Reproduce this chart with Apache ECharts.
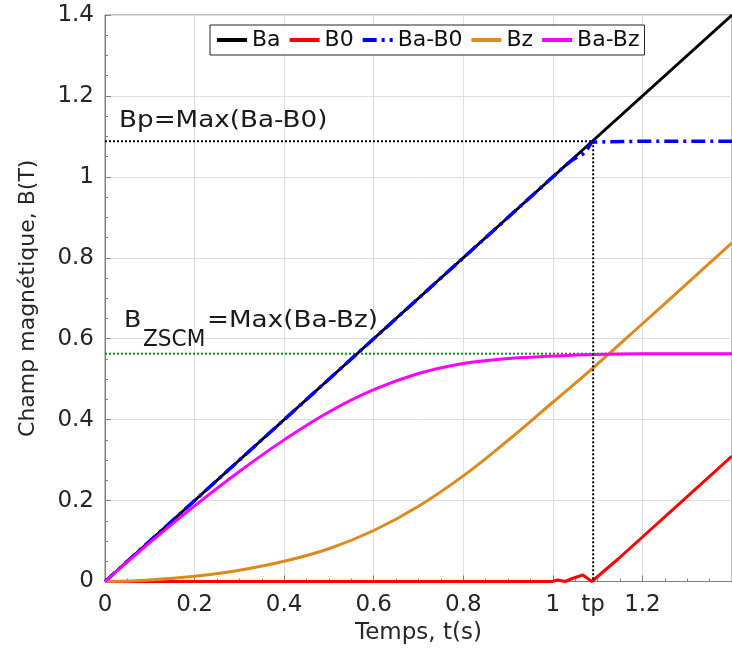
<!DOCTYPE html>
<html>
<head>
<meta charset="utf-8">
<script src="https://cdn.jsdelivr.net/npm/echarts@6/dist/echarts.min.js"></script>
<style>
html,body{margin:0;padding:0;background:#fff;}
#c{width:732px;height:660px;}
</style>
</head>
<body>
<div id="c"></div>
<script>
// ---- data ----
const xTickLabels = [0, 0.2, 0.4, 0.6, 0.8, 1, 1.09, 1.2];
const tp = 1.09;
const Bp = 1.088;
const Bzscm = 0.563;

const tBa = [0, 0.7, 1.4];
const Ba  = [0, 0.7, 1.4];

const tB0 = [0, 0.5, 1.0, 1.01, 1.027, 1.045, 1.067, 1.087, 1.145, 1.2, 1.3, 1.4];
const B0  = [0, 0,   0,   0.004, 0,    0.008, 0.016, 0,     0.055, 0.11, 0.21, 0.31];

const tBaB0 = [0, 0.5, 1.0, 1.027, 1.045, 1.067, 1.078, 1.087, 1.09, 1.2, 1.4];
const BaB0  = [0, 0.5, 1.0, 1.027, 1.043, 1.056, 1.07, 1.086, 1.088, 1.088, 1.088];

const tBz = [0, 0.1, 0.2, 0.3, 0.4, 0.5, 0.6, 0.7, 0.8, 0.9, 1.0, 1.09, 1.2, 1.3, 1.4];
const Bz  = [0, 0.004, 0.013, 0.028, 0.05, 0.081, 0.126, 0.186, 0.261, 0.349, 0.443, 0.528, 0.637, 0.737, 0.837];

const tBaBz = [0, 0.1, 0.2, 0.3, 0.4, 0.5, 0.6, 0.7, 0.8, 0.9, 1.0, 1.09, 1.2, 1.3, 1.4];
const BaBz  = [0, 0.096, 0.187, 0.272, 0.35, 0.419, 0.474, 0.514, 0.539, 0.551, 0.557, 0.561, 0.563, 0.563, 0.563];

const legendNames = ['Ba', 'B0', 'Ba-B0', 'Bz', 'Ba-Bz'];

// ---- build ----
const zip = (a, b) => a.map((v, i) => [v, b[i]]);
const FONT = 'DejaVu Sans';
const TXT = '#262626';

const chart = echarts.init(document.getElementById('c'), null, {renderer: 'canvas'});

function lineSeries(name, data, color, extra) {
  return Object.assign({
    name, type: 'line', data, symbol: 'none', showSymbol: false,
    lineStyle: {color, width: 3}, itemStyle: {color},
    emphasis: {disabled: true}, silent: true, clip: true
  }, extra || {});
}

const option = {
  animation: false,
  backgroundColor: '#fff',
  grid: {left: 105, top: 15, width: 634, height: 566.5, show: true,
         borderColor: '#808080', borderWidth: 1, containLabel: false},
  legend: {
    data: legendNames, left: 210, top: 25, orient: 'horizontal',
    itemWidth: 30, itemHeight: 14, itemGap: 7,
    padding: [4, 5, 4, 5],
    borderColor: '#262626', borderWidth: 1, backgroundColor: '#fff',
    itemStyle: {opacity: 0, borderWidth: 0},
    lineStyle: {width: 4},
    textStyle: {fontFamily: FONT, fontSize: 22, color: '#111'}
  },
  xAxis: {
    type: 'value', min: 0, max: 1.4, interval: 0.2,
    name: 'Temps, t(s)', nameLocation: 'middle', nameGap: 37,
    nameTextStyle: {fontFamily: FONT, fontSize: 23, color: TXT},
    axisLine: {show: true, onZero: false, lineStyle: {color: '#808080', width: 1}},
    axisTick: {show: true, inside: true, length: 6, lineStyle: {color: '#808080'}},
    minorTick: {show: true, splitNumber: 4, length: 3, lineStyle: {color: '#808080'}},
    axisLabel: {
      customValues: xTickLabels, margin: 12,
      fontFamily: FONT, fontSize: 23, color: TXT,
      formatter: v => Math.abs(v - tp) < 1e-6 ? 'tp' : String(+v.toFixed(2))
    },
    splitLine: {show: true, lineStyle: {color: '#dedede', width: 1}}
  },
  yAxis: {
    type: 'value', min: 0, max: 1.4, interval: 0.2,
    name: 'Champ magnétique, B(T)', nameLocation: 'middle', nameGap: 66,
    nameTextStyle: {fontFamily: FONT, fontSize: 22, color: TXT},
    axisLine: {show: true, lineStyle: {color: '#808080', width: 1}},
    axisTick: {show: true, inside: true, length: 6, lineStyle: {color: '#808080'}},
    minorTick: {show: true, splitNumber: 4, length: 3, lineStyle: {color: '#808080'}},
    axisLabel: {margin: 11, fontFamily: FONT, fontSize: 23, color: TXT,
      formatter: v => String(+v.toFixed(2)), showMinLabel: true, showMaxLabel: true},
    splitLine: {show: true, lineStyle: {color: '#dedede', width: 1}}
  },
  series: [
    lineSeries('zscm', [[0, Bzscm], [1.4, Bzscm]], '#148a14', {lineStyle: {color: '#148a14', width: 2, type: [2, 2]}, z: 1}),
    lineSeries('Ba', zip(tBa, Ba), '#000000', {z: 2}),
    lineSeries('B0', zip(tB0, B0), '#ff0000', {z: 3}),
    lineSeries('Ba-B0', zip(tBaB0, BaB0), '#0000ff', {lineStyle: {color: '#0000ff', width: 3.5, type: [14, 5, 3, 5]}, z: 4}),
    lineSeries('Bz', zip(tBz, Bz), '#dc8a1e', {smooth: 0.4, z: 5}),
    lineSeries('Ba-Bz', zip(tBaBz, BaBz), '#ff00ff', {smooth: 0.4, z: 6}),
    lineSeries('bpH', [[0, Bp], [tp, Bp]], '#000', {lineStyle: {color: '#000', width: 2, type: [2, 2]}, z: 7}),
    lineSeries('tpV', [[tp, Bp], [tp, 0]], '#000', {lineStyle: {color: '#000', width: 2, type: [2, 2]}, z: 7})
  ],
  graphic: [
    {type: 'text', x: 119, y: 121, scaleX: 1.14, z: 100,
     style: {text: 'Bp=Max(Ba-B0)', font: '23px "DejaVu Sans"', fill: '#1a1a1a', textVerticalAlign: 'middle'}},
    {type: 'text', x: 124, y: 321.5, scaleX: 1.1, z: 100,
     style: {text: 'B', font: '23px "DejaVu Sans"', fill: '#1a1a1a', textVerticalAlign: 'middle'}},
    {type: 'text', x: 143, y: 340.5, scaleX: 0.94, z: 100,
     style: {text: 'ZSCM', font: '23px "DejaVu Sans"', fill: '#1a1a1a', textVerticalAlign: 'middle'}},
    {type: 'text', x: 207, y: 321.5, scaleX: 1.14, z: 100,
     style: {text: '=Max(Ba-Bz)', font: '23px "DejaVu Sans"', fill: '#1a1a1a', textVerticalAlign: 'middle'}}
  ]
};
chart.setOption(option);
</script>
</body>
</html>
